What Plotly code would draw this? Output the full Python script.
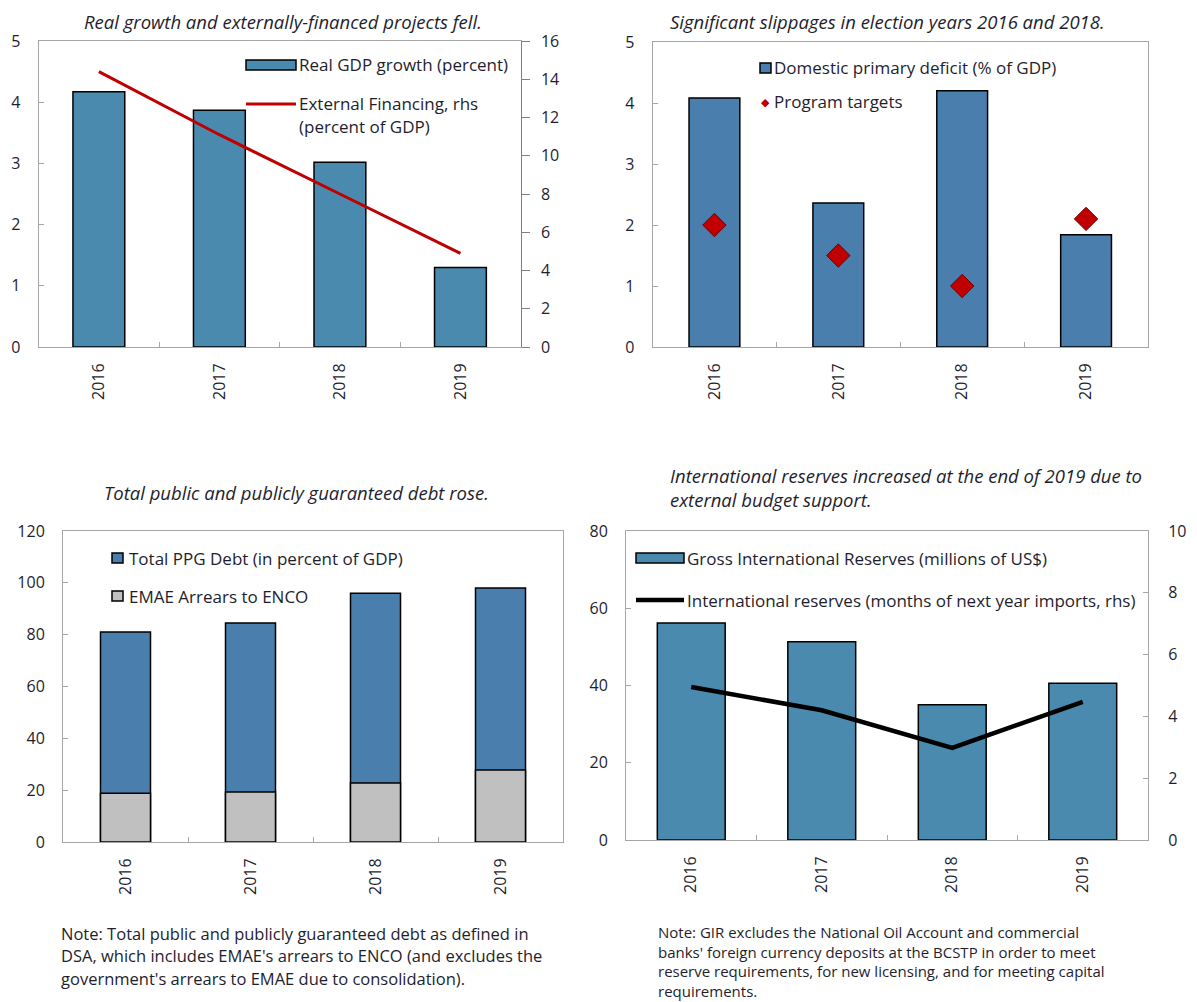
import plotly.graph_objects as go

W, H = 1197, 1002
OFF = 8  # page body margin
FW, FH = W - OFF, H - OFF
FONT = "Open Sans"

years = ["2016", "2017", "2018", "2019"]

# Panel 1
gdp_growth = [4.17, 3.87, 3.02, 1.30]
ext_financing = [14.4, 11.1, 8.0, 4.9]

# Panel 2
dom_primary_deficit = [4.08, 2.36, 4.20, 1.84]
program_targets = [2.0, 1.5, 1.0, 2.1]

# Panel 3
total_ppg_debt = [81.0, 84.5, 96.0, 98.0]
emae_arrears = [18.8, 19.3, 22.8, 27.8]

# Panel 4
gross_reserves = [56.2, 51.3, 35.0, 40.6]
reserve_months = [4.95, 4.2, 2.98, 4.47]

left_ticks_1 = [0, 1, 2, 3, 4, 5]
right_ticks_1 = [0, 2, 4, 6, 8, 10, 12, 14, 16]
left_ticks_3 = [0, 20, 40, 60, 80, 100, 120]
left_ticks_4 = [0, 20, 40, 60, 80]
right_ticks_4 = [0, 2, 4, 6, 8, 10]

BLUE1 = "#4A8AAE"
BLUE2 = "#4A7FAD"
GRAY = "#C0C0C0"
RED = "#C00000"
AXIS = "#A6A6A6"
TXT = "#1E1E2E"


def px(x):
    return (x - OFF) / FW


def py(y):
    return 1 - (y - OFF) / FH


fig = go.Figure()

bar_line = dict(color="black", width=1.5)

fig.add_trace(go.Bar(x=years, y=gdp_growth, marker=dict(color=BLUE1, line=bar_line),
                     width=0.43, xaxis="x", yaxis="y", showlegend=False))
fig.add_trace(go.Scatter(x=years, y=ext_financing, mode="lines", line=dict(color=RED, width=3),
                         xaxis="x", yaxis="y5", showlegend=False))

fig.add_trace(go.Bar(x=years, y=dom_primary_deficit, marker=dict(color=BLUE2, line=bar_line),
                     width=0.41, xaxis="x2", yaxis="y2", showlegend=False))
fig.add_trace(go.Scatter(x=years, y=program_targets, mode="markers",
                         marker=dict(symbol="diamond", size=18, color=RED,
                                     line=dict(color="#6E0000", width=1)),
                         xaxis="x2", yaxis="y2", showlegend=False))

fig.add_trace(go.Bar(x=years, y=total_ppg_debt, marker=dict(color=BLUE2, line=bar_line),
                     width=0.4, xaxis="x3", yaxis="y3", showlegend=False))
fig.add_trace(go.Bar(x=years, y=emae_arrears, marker=dict(color=GRAY, line=bar_line),
                     width=0.4, xaxis="x3", yaxis="y3", showlegend=False))

fig.add_trace(go.Bar(x=years, y=gross_reserves, marker=dict(color=BLUE1, line=bar_line),
                     width=0.52, xaxis="x4", yaxis="y4", showlegend=False))
fig.add_trace(go.Scatter(x=years, y=reserve_months, mode="lines", line=dict(color="black", width=4.5),
                         xaxis="x4", yaxis="y6", showlegend=False))

tickfont = dict(family=FONT, size=16, color=TXT)


def xax(dom, anchor):
    return dict(domain=dom, anchor=anchor, type="category", tickangle=-90,
                showline=True, linecolor=AXIS, linewidth=1, mirror=True,
                ticks="inside", tickson="boundaries", ticklen=5, tickcolor=AXIS,
                tickfont=tickfont, showgrid=False, zeroline=False, fixedrange=True,
                ticklabelstandoff=9, automargin=False)


def yax(dom, anchor, rng, vals, side="left", overlay=None, ticks="inside", ticklen=5, standoff=14):
    d = dict(domain=dom, anchor=anchor, range=rng, tickvals=vals, side=side,
             showline=True, linecolor=AXIS, linewidth=1, mirror=(overlay is None),
             ticks=ticks, ticklen=ticklen, tickcolor=AXIS, tickfont=tickfont,
             showgrid=False, zeroline=False, fixedrange=True, ticklabelstandoff=standoff,
             automargin=False)
    if overlay:
        d["overlaying"] = overlay
        d.pop("domain")
    return d


p1x = [px(38.6), px(520.7)]
p1y = [py(347), py(41)]
p2x = [px(652.5), px(1148)]
p2y = [py(347), py(42)]
p3x = [px(63), px(563)]
p3y = [py(842), py(531)]
p4x = [px(626), px(1148)]
p4y = [py(840), py(531)]

fig.update_layout(
    template="none",
    width=FW, height=FH, margin=dict(l=0, r=0, t=0, b=0, pad=0),
    paper_bgcolor="white", plot_bgcolor="white",
    barmode="overlay", showlegend=False,
    font=dict(family=FONT, color=TXT),
    xaxis=xax(p1x, "y"),
    yaxis=yax(p1y, "x", [0, 5], left_ticks_1),
    yaxis5=yax(None, "x", [0, 16], right_ticks_1, side="right", overlay="y",
               ticks="outside", ticklen=8, standoff=8),
    xaxis2=xax(p2x, "y2"),
    yaxis2=yax(p2y, "x2", [0, 5], left_ticks_1),
    xaxis3=xax(p3x, "y3"),
    yaxis3=yax(p3y, "x3", [0, 120], left_ticks_3),
    xaxis4=xax(p4x, "y4"),
    yaxis4=yax(p4y, "x4", [0, 80], left_ticks_4),
    yaxis6=yax(None, "x4", [0, 10], right_ticks_4, side="right", overlay="y4", standoff=16),
)
fig.layout.yaxis5.linecolor = "#808080"
fig.layout.yaxis5.tickcolor = "#808080"

shapes = []
annos = []


def text(x, y, s, size=16, anchor="left", italic=False, yanchor="middle"):
    if italic:
        s = "<i>" + s + "</i>"
    annos.append(dict(x=px(x), y=py(y), xref="paper", yref="paper", text=s, showarrow=False,
                      xanchor=anchor, yanchor=yanchor, borderpad=0,
                      font=dict(family=FONT, size=size, color=TXT)))


def rect(x0, y0, x1, y1, color):
    shapes.append(dict(type="rect", xref="paper", yref="paper", x0=px(x0), x1=px(x1),
                       y0=py(y1), y1=py(y0), fillcolor=color, line=dict(color="black", width=1.5)))


def hline(x0, x1, y, color, width):
    shapes.append(dict(type="line", xref="paper", yref="paper", x0=px(x0), x1=px(x1),
                       y0=py(y), y1=py(y), line=dict(color=color, width=width)))


# Titles
TS = 18.5
text(283, 8, "Real growth and externally-financed projects fell.", size=TS, anchor="center",
     italic=True, yanchor="top")
text(888, 8, "Significant slippages in election years 2016 and 2018.", size=TS, anchor="center",
     italic=True, yanchor="top")
text(296, 493, "Total public and publicly guaranteed debt rose.", size=TS, anchor="center", italic=True)
text(669, 475, "International reserves increased at the end of 2019 due to", size=TS, italic=True)
text(669, 499, "external budget support.", size=TS, italic=True)

LS = 17
# Legend panel 1
rect(246, 60, 296, 70, BLUE1)
text(298, 65, "Real GDP growth (percent)", size=LS)
hline(246, 296, 104, RED, 3)
text(298, 104, "External Financing, rhs", size=LS)
text(298, 127, "(percent of GDP)", size=LS)

# Legend panel 2
rect(760, 63, 771, 73, BLUE2)
text(773, 68, "Domestic primary deficit (% of GDP)", size=LS)
annos.append(dict(x=px(766), y=py(101), xref="paper", yref="paper", text="◆", showarrow=False,
                  xanchor="center", yanchor="middle", font=dict(size=11, color=RED)))
text(773, 101, "Program targets", size=LS)

# Legend panel 3
rect(112, 553, 123, 563, BLUE2)
text(128, 558, "Total PPG Debt (in percent of GDP)", size=LS)
rect(112, 591, 123, 601, GRAY)
text(128, 596, "EMAE Arrears to ENCO", size=LS)

# Legend panel 4
rect(636, 553, 684, 563, BLUE1)
text(686, 558, "Gross International Reserves (millions of US$)", size=LS)
hline(636, 684, 600, "black", 4.5)
text(686, 600, "International reserves (months of next year imports, rhs)", size=LS)

# Notes
note3 = [
    "Note: Total public and publicly guaranteed debt as defined in",
    "DSA, which includes EMAE's arrears to ENCO (and excludes the",
    "government's arrears to EMAE due to consolidation).",
]
for i, line in enumerate(note3):
    text(60, 933 + i * 22.5, line, size=16.5)

note4 = [
    "Note: GIR excludes the National Oil Account and commercial",
    "banks' foreign currency deposits at the BCSTP in order to meet",
    "reserve requirements, for new licensing, and for meeting capital",
    "requirements.",
]
for i, line in enumerate(note4):
    text(657, 932 + i * 19.5, line, size=15)

fig.update_layout(shapes=shapes, annotations=annos)

fig.write_html("out.html")
